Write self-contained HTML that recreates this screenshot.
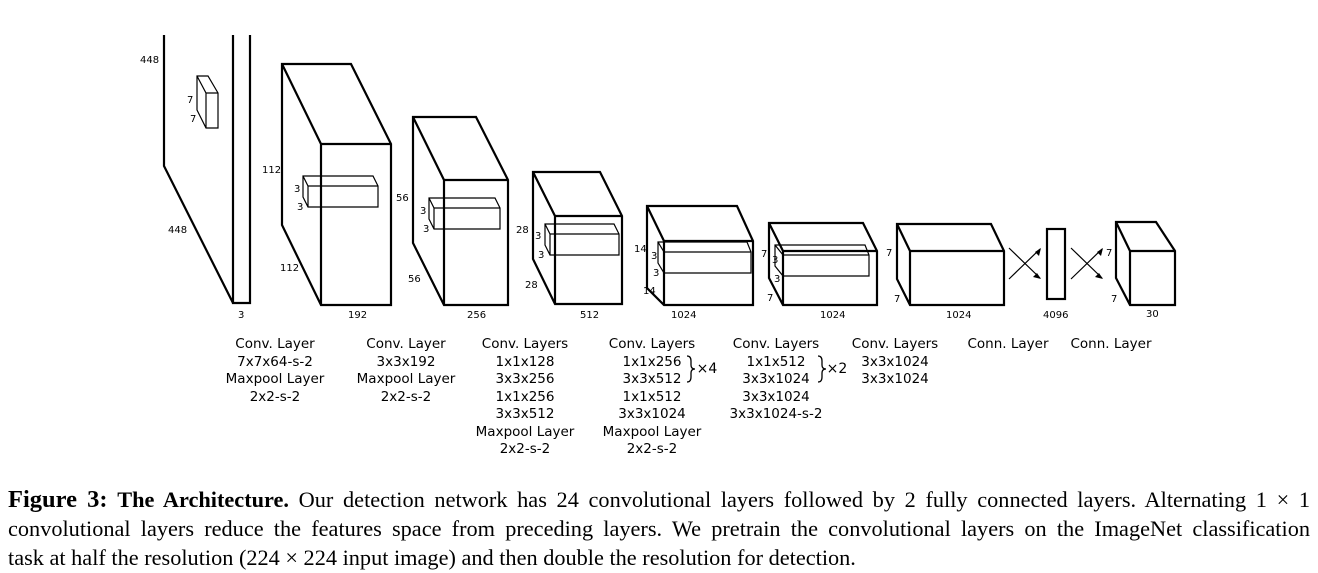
<!DOCTYPE html>
<html><head><style>
body{margin:0;background:#fff;width:1318px;height:573px;overflow:hidden;position:relative}
svg{position:absolute;left:0;top:0}
.cap{position:absolute;left:8px;top:485px;width:1302px;font-family:"Liberation Serif",serif;font-size:22.3px;line-height:29px;color:#000}
.cap div{white-space:nowrap;text-align:justify;text-align-last:justify}
.cap div.last{text-align-last:left}
.f{font-size:24.5px}
</style></head><body>
<svg width="1318" height="480" viewBox="0 0 1318 480" font-family="'DejaVu Sans','Liberation Sans',sans-serif" font-size="10" fill="none" stroke="#000">
<g stroke-width="2.2" stroke-linejoin="miter">
<path d="M164 35 V166 L233 303 M233 35 V303 H250 V35"/>
<path d="M282 64 H351 L391 144 V305 H321 L282 225 Z M282 64 L321 144 H391 M321 144 V305"/>
<path d="M413 117 H476 L508 180 V305 H444 L413 243 Z M413 117 L444 180 H508 M444 180 V305"/>
<path d="M533 172 H600 L622 216 V304 H555 L533 259 Z M533 172 L555 216 H622 M555 216 V304"/>
<path d="M647 206 H737 L753 241 V305 H664 L647 288 Z M647 206 L664 241 H753 M664 241 V305"/>
<path d="M769 223 H863 L877 251 V305 H783 L769 278 Z M769 223 L783 251 H877 M783 251 V305"/>
<path d="M897 224 H991 L1004 251 V305 H910 L897 279 Z M897 224 L910 251 H1004 M910 251 V305"/>
<rect x="1047" y="229" width="18" height="70"/>
<path d="M1116 222 H1156 L1175 251 V305 H1130 L1116 278 Z M1116 222 L1130 251 H1175 M1130 251 V305"/>
</g>
<g stroke-width="1.2">
<path d="M197 76 H208 L218 93 V128 H206 L197 110 Z M197 76 L206 93 H218 M206 93 V128"/>
<path d="M303 176 H373 L378 186 V207 H308 L303 197 Z M303 176 L308 186 H378 M308 186 V207"/>
<path d="M429 198 H495 L500 208 V229 H434 L429 219 Z M429 198 L434 208 H500 M434 208 V229"/>
<path d="M545 224 H614 L619 234 V255 H550 L545 245 Z M545 224 L550 234 H619 M550 234 V255"/>
<path d="M658 242 H747 L751 252 V273 H664 L658 263 Z M658 242 L664 252 H751 M664 252 V273"/>
<path d="M775 245 H865 L869 255 V276 H783 L775 266 Z M775 245 L783 255 H869 M783 255 V276"/>
<path d="M1009 248 L1040 278 M1009 279 L1040 249 M1071 248 L1102 278 M1071 279 L1102 249"/>
</g>
<g fill="#000" stroke="none">
<path d="M1041 279 l-8 -2 l4 -4 z M1041 248 l-2 8 l-4 -4 z M1103 279 l-8 -2 l4 -4 z M1103 248 l-2 8 l-4 -4 z"/>
<text x="140" y="63">448</text><text x="187" y="103">7</text><text x="190" y="122">7</text>
<text x="168" y="233">448</text><text x="238" y="318">3</text>
<text x="262" y="173">112</text><text x="294" y="192">3</text><text x="297" y="210">3</text>
<text x="280" y="271">112</text><text x="348" y="318">192</text>
<text x="396" y="201">56</text><text x="420" y="214">3</text><text x="423" y="232">3</text>
<text x="408" y="282">56</text><text x="467" y="318">256</text>
<text x="516" y="233">28</text><text x="535" y="239">3</text><text x="538" y="258">3</text>
<text x="525" y="288">28</text><text x="580" y="318">512</text>
<text x="634" y="252">14</text><text x="651" y="259">3</text><text x="653" y="276">3</text>
<text x="643" y="294">14</text><text x="671" y="318">1024</text>
<text x="761" y="257">7</text><text x="772" y="263">3</text><text x="774" y="282">3</text>
<text x="767" y="301">7</text><text x="820" y="318">1024</text>
<text x="886" y="256">7</text><text x="894" y="302">7</text><text x="946" y="318">1024</text>
<text x="1043" y="318">4096</text><text x="1106" y="256">7</text><text x="1111" y="302">7</text>
<text x="1146" y="317">30</text>
</g>
<g fill="#000" stroke="none" font-size="13.5" text-anchor="middle">
<text x="275" y="348">Conv. Layer</text><text x="275" y="366">7x7x64-s-2</text><text x="275" y="383">Maxpool Layer</text><text x="275" y="401">2x2-s-2</text>
<text x="406" y="348">Conv. Layer</text><text x="406" y="366">3x3x192</text><text x="406" y="383">Maxpool Layer</text><text x="406" y="401">2x2-s-2</text>
<text x="525" y="348">Conv. Layers</text><text x="525" y="366">1x1x128</text><text x="525" y="383">3x3x256</text><text x="525" y="401">1x1x256</text><text x="525" y="418">3x3x512</text><text x="525" y="436">Maxpool Layer</text><text x="525" y="453">2x2-s-2</text>
<text x="652" y="348">Conv. Layers</text><text x="652" y="366">1x1x256</text><text x="652" y="383">3x3x512</text><text x="652" y="401">1x1x512</text><text x="652" y="418">3x3x1024</text><text x="652" y="436">Maxpool Layer</text><text x="652" y="453">2x2-s-2</text>
<text x="776" y="348">Conv. Layers</text><text x="776" y="366">1x1x512</text><text x="776" y="383">3x3x1024</text><text x="776" y="401">3x3x1024</text><text x="776" y="418">3x3x1024-s-2</text>
<text x="895" y="348">Conv. Layers</text><text x="895" y="366">3x3x1024</text><text x="895" y="383">3x3x1024</text>
<text x="1008" y="348">Conn. Layer</text><text x="1111" y="348">Conn. Layer</text>
<text x="707" y="373" font-size="14">×4</text><text x="837" y="373" font-size="14">×2</text>
</g>
<path d="M687 356 q4 0 4 5 v4 q0 4 4 4 q-4 0 -4 4 v4 q0 5 -4 5 M818 356 q4 0 4 5 v4 q0 4 4 4 q-4 0 -4 4 v4 q0 5 -4 5" stroke-width="1.3"/>
</svg>
<div class="cap">
<div><b class="f">Figure 3:</b> <b>The Architecture.</b> Our detection network has 24 convolutional layers followed by 2 fully connected layers. Alternating 1 × 1</div>
<div>convolutional layers reduce the features space from preceding layers. We pretrain the convolutional layers on the ImageNet classification</div>
<div class="last">task at half the resolution (224 × 224 input image) and then double the resolution for detection.</div>
</div>
</body></html>
